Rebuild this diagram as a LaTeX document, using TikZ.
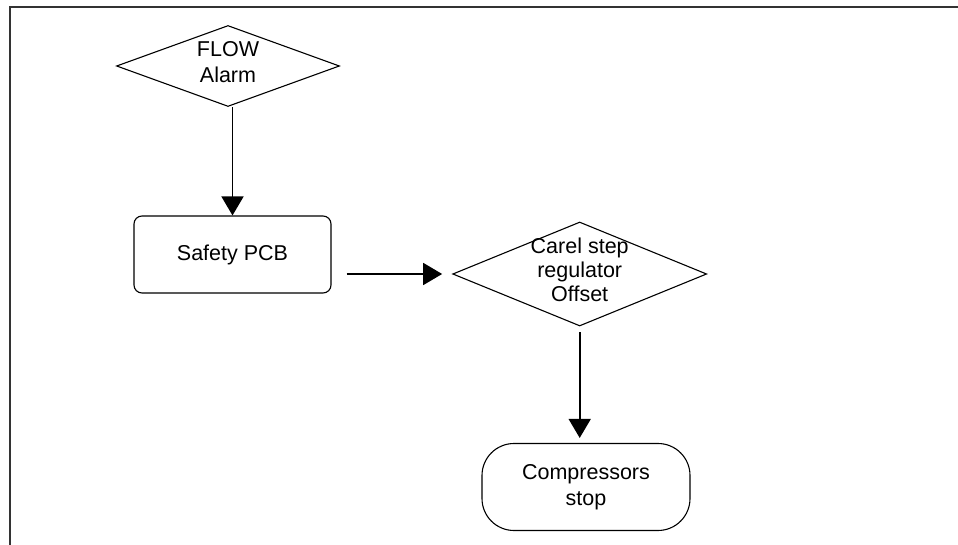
\documentclass[tikz,border=0pt]{standalone}
\usepackage{fontspec}
\setmainfont{Liberation Sans}
\usetikzlibrary{shapes.geometric,arrows.meta}

\begin{document}
\begin{tikzpicture}
                [x=1pt, y=-1pt,
                    decision/.style={diamond, draw, inner sep=0pt},
                    process/.style={rectangle, draw, rounded corners=8pt},
                    terminal/.style={rectangle, draw, rounded corners=32pt},
                    flowline/.style={-{Triangle[width=22pt,length=19pt]}, line width=1.6pt},
                ]
                \tikzstyle{every node}=[font=\fontsize{21.5}{26}\selectfont, align=center, line width=1.1pt]
                \useasboundingbox (0,0) rectangle (958,545);
                \draw[line width=1.6pt, black!80] (958,7) -- (10,7) -- (10,545);
                \node[decision, minimum width=223pt, minimum height=81pt] (flow) at (228,66) {};
                \node[yshift=4pt] (flowtext) at (flow) {FLOW\\Alarm};
                \node[process, minimum width=197pt, minimum height=77pt] (pcb) at (232.5,254.5) {Safety PCB};
                \node[decision, minimum width=254pt, minimum height=104pt] (carel) at (579.7,274) {};
                \node[yshift=4pt] (careltext) at (carel) {Carel step\\[-2pt]regulator\\[-2pt]Offset};
                \node[terminal, minimum width=208pt, minimum height=87pt] (stop) at (586,487) {Compressors\\stop};
                \draw[flowline] (flow.south -| pcb.north) -- (pcb.north);
                \draw[flowline, shorten <=15pt, shorten >=10pt] (pcb.east |- carel.west) -- (carel.west);
                \draw[flowline, shorten <=5.5pt, shorten >=5pt] (carel.south) -- (carel.south |- stop.north);
            \end{tikzpicture}
\end{document}
